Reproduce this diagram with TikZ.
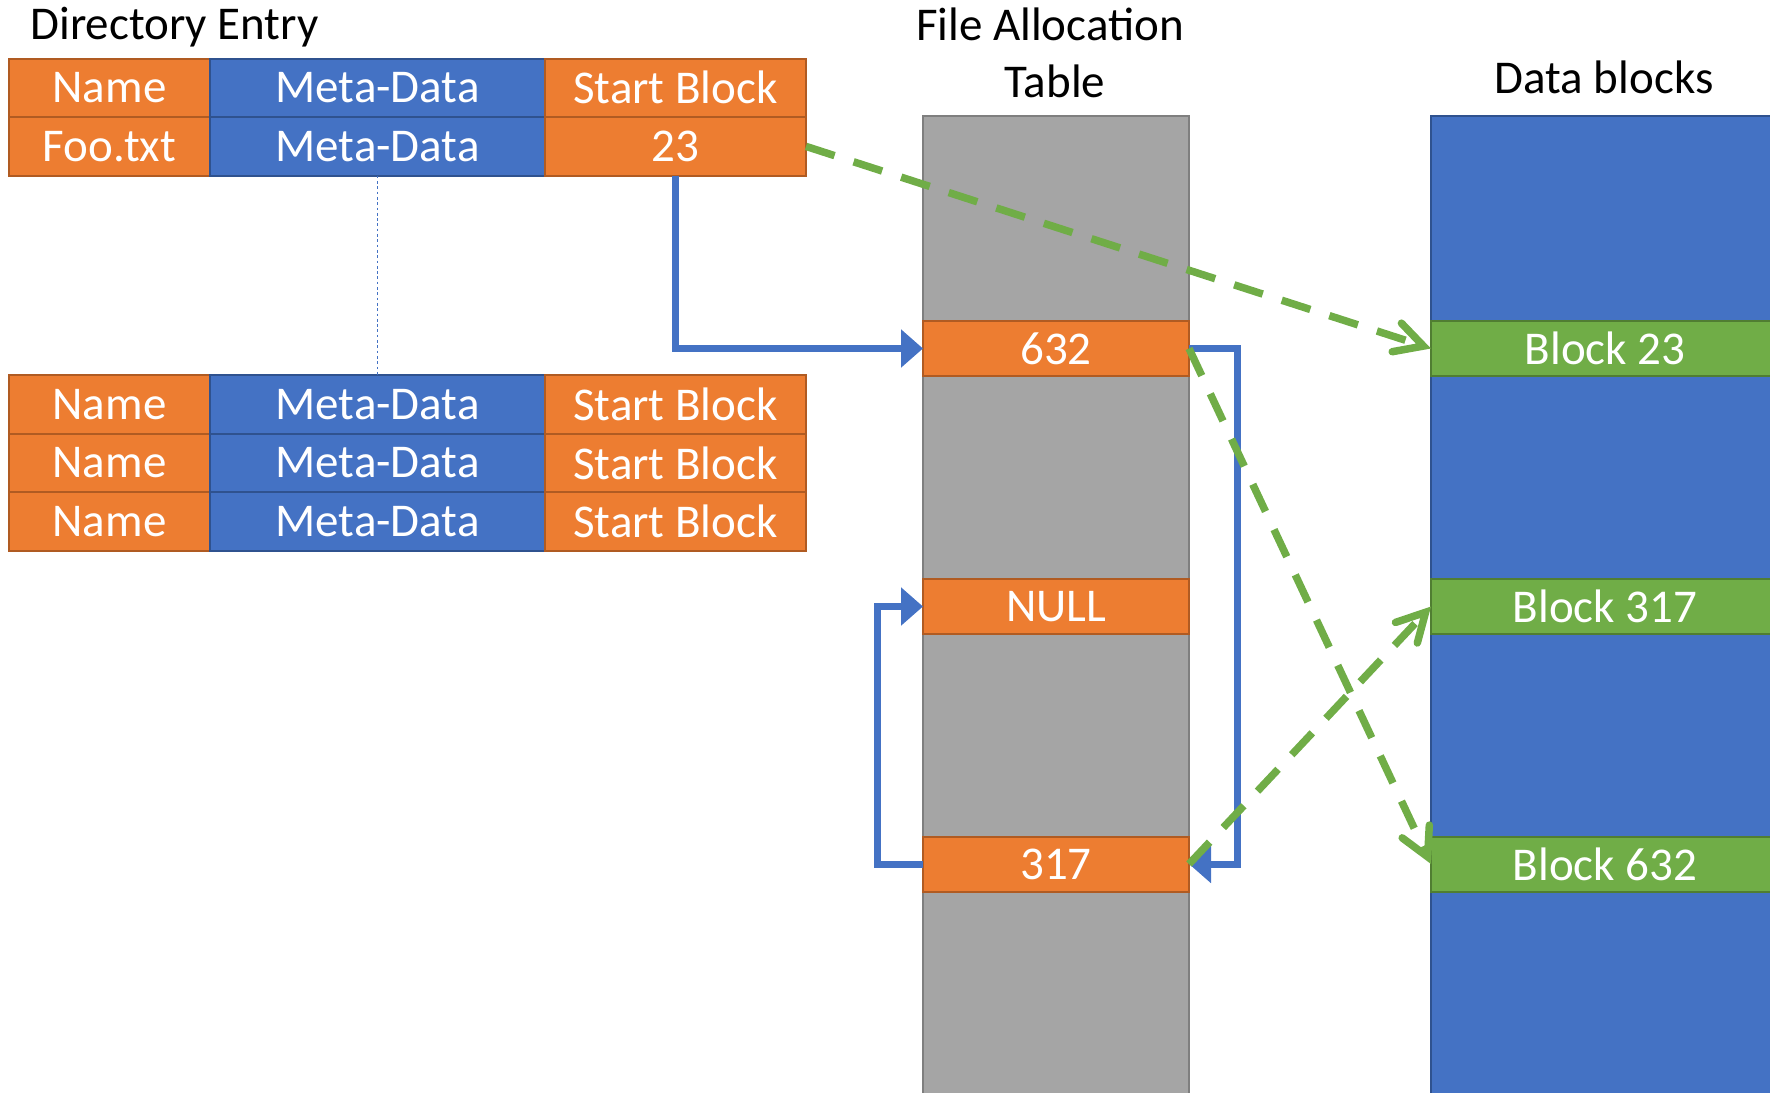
\documentclass[tikz,border=0pt]{standalone}
\usepackage{fontspec}
\setmainfont{Carlito}
\usetikzlibrary{arrows.meta}

\definecolor{cellorange}{HTML}{ED7D31}
\definecolor{orangeedge}{HTML}{B05B22}
\definecolor{cellblue}{HTML}{4472C4}
\definecolor{blueedge}{HTML}{2F528F}
\definecolor{cellgreen}{HTML}{70AD47}
\definecolor{greenedge}{HTML}{507E32}
\definecolor{fatgray}{HTML}{A5A5A5}
\definecolor{grayedge}{HTML}{7F7F7F}

\begin{document}
\begin{tikzpicture}[x=0.5pt,y=-0.5pt,
  every node/.style={font=\fontsize{23.5pt}{28pt}\selectfont},
  cell/.style={rectangle, inner sep=0pt, outer sep=0pt, line width=1pt,
    text=white, anchor=north west, minimum height=29.3pt},
  ocell/.style={cell, fill=cellorange, draw=orangeedge},
  bcell/.style={cell, fill=cellblue, draw=blueedge},
  namecol/.style={ocell, minimum width=100.5pt},
  metacol/.style={bcell, minimum width=167.5pt},
  startcol/.style={ocell, minimum width=130.5pt},
  column/.style={rectangle, inner sep=0pt, outer sep=0pt, anchor=north west,
    line width=1.25pt, minimum height=500pt},
  fatentry/.style={ocell, minimum width=133pt, minimum height=27.5pt},
  blockentry/.style={cell, fill=cellgreen, draw=greenedge,
    minimum width=174pt, minimum height=27.5pt},
  title/.style={text=black, inner sep=0pt},
  chain/.style={draw=cellblue, line width=3.5pt,
    -{Triangle[length=11pt,width=18.5pt]}},
  datalink/.style={draw=cellgreen, line width=3.75pt, dash pattern=on 15pt off 10pt,
    -{Straight Barb[length=14pt,width=15pt,line cap=round]}},
  dotlink/.style={draw=cellblue, line width=0.75pt, dash pattern=on 1.35pt off 1.3pt}]

\useasboundingbox (0,0) rectangle (1770,1092);
\clip (0,0) rectangle (1770,1092);

% titles
\node[title, anchor=base west] (dirtitle) at (30,39.5) {Directory Entry};
\node[title, anchor=base] (fattitle) at (1050,40) {File Allocation};
\node[title, anchor=base] (fattitleb) at (1055,97.5) {Table};
\node[title, anchor=base] (datatitle) at (1604,93) {Data blocks};

% directory entry: header row and the Foo.txt entry
\node[namecol]  (h-name)  at (9,58.5)   {Name};
\node[metacol]  (h-meta)  at (210,58.5) {Meta-Data};
\node[startcol] (h-start) at (545,58.5) {Start Block};
\node[namecol]  (f-name)  at (9,117.1)   {Foo.txt};
\node[metacol]  (f-meta)  at (210,117.1) {Meta-Data};
\node[startcol] (f-start) at (545,117.1) {23};

% further directory entries
\node[namecol]  (a-name)  at (9,375)   {Name};
\node[metacol]  (a-meta)  at (210,375) {Meta-Data};
\node[startcol] (a-start) at (545,375) {Start Block};
\node[namecol]  (b-name)  at (9,433.7)   {Name};
\node[metacol]  (b-meta)  at (210,433.7) {Meta-Data};
\node[startcol] (b-start) at (545,433.7) {Start Block};
\node[namecol]  (c-name)  at (9,492.4)   {Name};
\node[metacol]  (c-meta)  at (210,492.4) {Meta-Data};
\node[startcol] (c-start) at (545,492.4) {Start Block};

\draw[dotlink] (f-meta.south) -- (a-meta.north);

% file allocation table
\node[column, fill=fatgray, draw=grayedge, minimum width=133pt] (fat) at (923,116) {};
\node[fatentry] (e632)  at (923,321) {632};
\node[fatentry] (enull) at (923,579) {NULL};
\node[fatentry] (e317)  at (923,836.5) {317};

% data blocks
\node[column, fill=cellblue, draw=blueedge, minimum width=174pt] (data) at (1431,116) {};
\node[blockentry] (b23)  at (1431,321) {Block 23};
\node[blockentry] (b317) at (1431,579) {Block 317};
\node[blockentry] (b632) at (1431,836.5) {Block 632};

% cluster chain through the table
\draw[chain] (f-start.south) |- (e632.west);
\draw[chain] (e632.east) -- ++(48,0) |- (e317.east);
\draw[chain] (e317.west) -- ++(-46,0) |- (enull.west);

% table entries to their data blocks
\draw[datalink] (f-start.east) -- (b23.west);
\draw[datalink] (e632.east) -- (b632.west);
\draw[datalink] (e317.east) -- (b317.west);
\end{tikzpicture}
\end{document}
